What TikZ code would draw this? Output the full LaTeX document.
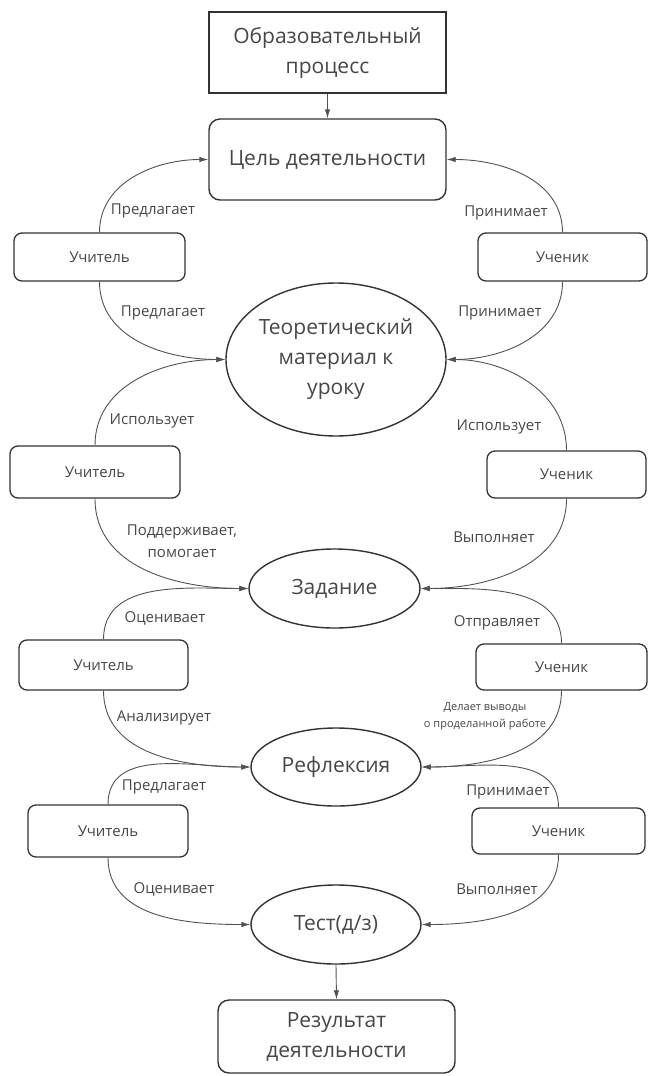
\documentclass[tikz,border=0pt]{standalone}
\usepackage{fontspec}
\setmainfont{Open Sans}
\usetikzlibrary{arrows.meta,shapes.geometric}
\definecolor{txt}{HTML}{474747}
\definecolor{ln}{HTML}{333333}
\tikzset{
  big/.style={font=\fontsize{21}{30}\selectfont, text=txt, align=center, inner sep=0pt},
  sm/.style={font=\fontsize{15}{22}\selectfont, text=txt, align=center, inner sep=0pt},
  tiny/.style={font=\fontsize{11}{17}\selectfont, text=txt, align=center, inner sep=0pt},
  sqbox/.style={big, draw=ln, line width=1.4pt, rectangle},
  rbox/.style={big, draw=ln, line width=1.4pt, rectangle, rounded corners=11pt},
  actor/.style={sm, draw=ln, line width=1.3pt, rectangle, rounded corners=8pt},
  oval/.style={big, draw=ln, line width=1.4pt, ellipse, inner sep=0pt},
  link/.style={draw=ln!85, line width=0.9pt, -{Latex[length=9pt,width=5.5pt]}},
  lbl/.style={sm},
}
\begin{document}
\begin{tikzpicture}[x=1pt,y=1pt]
\useasboundingbox (0,0) rectangle (648,-1076);
% main chain
\node[sqbox, minimum width=237pt, minimum height=81pt] (proc) at (327.5,-52.5) {Образовательный\\процесс};
\node[rbox, minimum width=237pt, minimum height=81pt] (goal) at (327.5,-159.5) {Цель деятельности};
\node[oval, minimum width=220pt, minimum height=153pt] (theory) at (336,-359.5) {Теоретический\\материал к\\уроку};
\node[oval, minimum width=171pt, minimum height=79pt] (task) at (334.5,-588.5) {Задание};
\node[oval, minimum width=170pt, minimum height=78pt] (refl) at (336,-767) {Рефлексия};
\node[oval, minimum width=170pt, minimum height=79pt] (test) at (336,-924.5) {Тест(д/з)};
\node[rbox, minimum width=237pt, minimum height=73pt] (res) at (336.5,-1036.5) {Результат\\деятельности};
% actors
\node[actor, minimum width=171pt, minimum height=48pt] (t1) at (99.5,-257) {Учитель};
\node[actor, minimum width=169pt, minimum height=48pt] (s1) at (562.5,-257) {Ученик};
\node[actor, minimum width=170pt, minimum height=52pt] (t2) at (95,-472) {Учитель};
\node[actor, minimum width=159pt, minimum height=47pt] (s2) at (566.5,-474.5) {Ученик};
\node[actor, minimum width=169pt, minimum height=50pt] (t3) at (103.5,-665) {Учитель};
\node[actor, minimum width=171pt, minimum height=46pt] (s3) at (561.5,-667) {Ученик};
\node[actor, minimum width=160pt, minimum height=52pt] (t4) at (108,-831) {Учитель};
\node[actor, minimum width=173pt, minimum height=46pt] (s4) at (558.5,-831) {Ученик};
% straight arrows
\draw[link] (proc.south) -- (goal.north);
\draw[link] (test.south) -- (res.north);
% curved connectors
\draw[link] (t1.north) to[out=90,in=180] (goal.west);
\draw[link] (s1.north) to[out=90,in=0] (goal.east);
\draw[link] (t1.south) to[out=-90,in=180] (theory.west);
\draw[link] (s1.south) to[out=-90,in=0] (theory.east);
\draw[link] (t2.north) to[out=90,in=180] (theory.west);
\draw[link] (s2.north) to[out=90,in=0] (theory.east);
\draw[link] (t2.south) to[out=-90,in=180] (task.west);
\draw[link] (s2.south) to[out=-90,in=0] (task.east);
\draw[link] (t3.north) to[out=90,in=180] (task.west);
\draw[link] (s3.north) to[out=90,in=0] (task.east);
\draw[link] (t3.south) to[out=-90,in=180] (refl.west);
\draw[link] (s3.south) to[out=-90,in=0] (refl.east);
\draw[link] (t4.north) to[out=90,in=180] (refl.west);
\draw[link] (s4.north) to[out=90,in=0] (refl.east);
\draw[link] (t4.south) to[out=-90,in=180] (test.west);
\draw[link] (s4.south) to[out=-90,in=0] (test.east);
% labels
\node[lbl] (lA1) at (153,-211) {Предлагает};
\node[lbl] (lA2) at (506,-213) {Принимает};
\node[lbl] (lB1) at (163,-313) {Предлагает};
\node[lbl] (lB2) at (500,-313) {Принимает};
\node[lbl] (lC1) at (152,-421) {Использует};
\node[lbl] (lC2) at (499,-427) {Использует};
\node[lbl] (lD1) at (182,-541) {Поддерживает,\\помогает};
\node[lbl] (lD2) at (494,-537) {Выполняет};
\node[lbl] (lE1) at (165,-618) {Оценивает};
\node[lbl] (lE2) at (497,-623) {Отправляет};
\node[lbl] (lF1) at (164,-718) {Анализирует};
\node[tiny] (lF2) at (485,-716) {Делает выводы\\о проделанной работе};
\node[lbl] (lG1) at (164,-787) {Предлагает};
\node[lbl] (lG2) at (508,-792) {Принимает};
\node[lbl] (lH1) at (174,-889) {Оценивает};
\node[lbl] (lH2) at (497,-889) {Выполняет};
\end{tikzpicture}
\end{document}
